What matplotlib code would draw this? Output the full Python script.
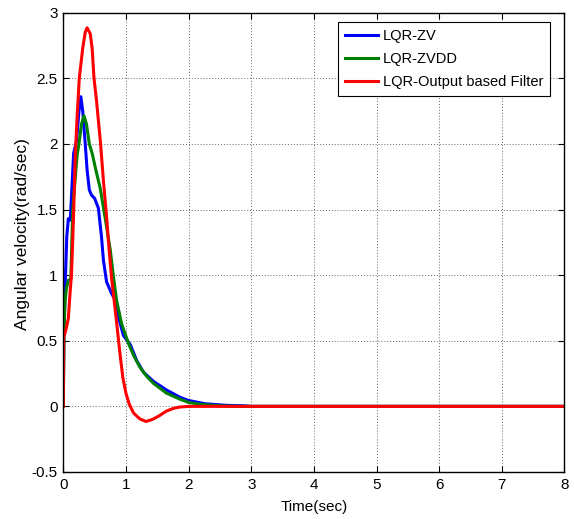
import matplotlib
matplotlib.use("Agg")
import matplotlib.pyplot as plt

plt.rcParams['font.family'] = ['Liberation Sans', 'DejaVu Sans']

# LQR-ZV response
t_zv = [0, 0.01, 0.035, 0.055, 0.08, 0.11, 0.12, 0.165, 0.21, 0.25, 0.28, 0.31,
        0.35, 0.38, 0.415, 0.45, 0.50, 0.56, 0.61, 0.64, 0.69, 0.77, 0.83, 0.88,
        0.96, 1.07, 1.17, 1.28, 1.44, 1.65, 1.86, 2.0, 2.26, 2.6, 2.9, 3.0, 8.0]
w_zv = [0, 0.55, 1.0, 1.29, 1.43, 1.42, 1.5, 1.93, 2.02, 2.25, 2.36, 2.25,
        2.0, 1.8, 1.65, 1.61, 1.585, 1.51, 1.29, 1.115, 0.95, 0.86, 0.81, 0.68,
        0.54, 0.47, 0.35, 0.26, 0.19, 0.124, 0.07, 0.045, 0.02, 0.008, 0.004, 0, 0]

# LQR-ZVDD response
t_zvdd = [0, 0.01, 0.027, 0.05, 0.08, 0.12, 0.15, 0.22, 0.25, 0.29, 0.33, 0.37,
          0.415, 0.46, 0.52, 0.59, 0.67, 0.75, 0.80, 0.85, 0.93, 1.04, 1.12, 1.22,
          1.33, 1.44, 1.65, 1.86, 2.0, 2.2, 2.5, 2.8, 8.0]
w_zvdd = [0, 0.55, 0.8, 0.9, 0.96, 0.97, 1.5, 1.915, 2.0, 2.15, 2.215, 2.15,
          2.0, 1.93, 1.80, 1.66, 1.43, 1.19, 0.99, 0.81, 0.63, 0.48, 0.39, 0.30,
          0.23, 0.175, 0.10, 0.055, 0.03, 0.015, 0.004, 0, 0]

# LQR-Output based Filter response
t_obf = [0, 0.005, 0.05, 0.08, 0.11, 0.13, 0.16, 0.19, 0.22, 0.255, 0.31, 0.35,
         0.38, 0.43, 0.46, 0.49, 0.53, 0.595, 0.64, 0.69, 0.73, 0.77, 0.82, 0.86,
         0.90, 0.95, 1.0, 1.05, 1.12, 1.22, 1.32, 1.42, 1.52, 1.65, 1.76, 1.86,
         2.0, 8.0]
w_obf = [0, 0.52, 0.6, 0.67, 0.88, 1.0, 1.4, 1.9, 2.2, 2.5, 2.73, 2.85,
         2.885, 2.84, 2.73, 2.5, 2.33, 2.0, 1.72, 1.45, 1.2, 0.98, 0.77, 0.6,
         0.42, 0.22, 0.1, 0.02, -0.05, -0.095, -0.115, -0.1, -0.075, -0.035, -0.015, -0.005,
         0, 0]

labels = ['LQR-ZV', 'LQR-ZVDD', 'LQR-Output based Filter']
colors = ['#0000ff', '#008000', '#ff0000']

fig = plt.figure(figsize=(5.74, 5.19), dpi=100)
ax = fig.add_axes([0.1103, 0.0906, 0.8731, 0.8849])

ax.plot(t_zv, w_zv, color=colors[0], lw=2.2, label=labels[0])
ax.plot(t_zvdd, w_zvdd, color=colors[1], lw=2.2, label=labels[1])
ax.plot(t_obf, w_obf, color=colors[2], lw=2.2, label=labels[2])

ax.set_xlim(0, 8)
ax.set_ylim(-0.5, 3)
ax.set_xticks(range(0, 9))
ax.set_yticks([-0.5, 0, 0.5, 1, 1.5, 2, 2.5, 3])
ax.set_yticklabels(['-0.5', '0', '0.5', '1', '1.5', '2', '2.5', '3'])
ax.tick_params(direction='in', top=True, right=True, length=4, width=0.8,
               labelsize=11, pad=4)
ax.grid(True, color='0.4', linestyle=(0, (1, 2)), linewidth=0.7)
for s in ax.spines.values():
    s.set_linewidth(1.0)

ax.set_xlabel('Time(sec)', fontsize=11, labelpad=6)
ax.set_ylabel('Angular velocity(rad/sec)', fontsize=12.5)
ax.yaxis.set_label_coords(-0.066, 0.517)

leg = ax.legend(loc='upper right', bbox_to_anchor=(0.971, 0.979), borderaxespad=0,
                fontsize=10.5, fancybox=False, framealpha=1, edgecolor='black',
                handlelength=2.26, handletextpad=0.34, labelspacing=0.6,
                borderpad=0.48)
leg.get_frame().set_linewidth(0.8)

fig.savefig('out.png', dpi=100)
